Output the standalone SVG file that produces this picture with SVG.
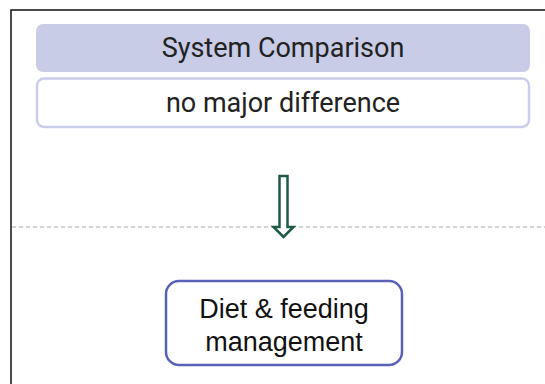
<svg xmlns="http://www.w3.org/2000/svg" width="545" height="384" viewBox="0 0 545 384">
  <style>
    .frame { stroke: #111; stroke-width: 1.5; fill: none; }
    .label { font-family: Roboto, "Liberation Sans", sans-serif; font-size: 27px; fill: #222; text-anchor: middle; }
    .node-label { font-family: "Liberation Sans", Arial, sans-serif; font-size: 27px; fill: #111; text-anchor: middle; }
    .divider { stroke: #a8a8a8; stroke-width: 1; stroke-dasharray: 4 3; }
    .flow-arrow { fill: #fff; stroke: #1d5a47; stroke-width: 2.5; stroke-linejoin: miter; }
  </style>
  <rect width="545" height="384" fill="#fff"/>

  <!-- outer frame: top and left edges -->
  <path class="frame" d="M11 384 V10 H545"/>

  <g id="header">
    <rect x="36" y="24" width="494" height="48" rx="7" fill="#c8cce6"/>
    <text class="label" x="283" y="57">System Comparison</text>
  </g>

  <g id="summary">
    <rect x="37" y="78.5" width="492" height="48.5" rx="7" fill="#fff" stroke="#c9cde9" stroke-width="2.5"/>
    <text class="label" x="283" y="112">no major difference</text>
  </g>

  <g id="connectors">
    <line class="divider" x1="12" y1="227" x2="545" y2="227"/>
    <polygon class="flow-arrow" points="279.5,176 287.5,176 287.5,227 293.5,227 283.5,237 273.5,227 279.5,227"/>
  </g>

  <g id="diet-feeding">
    <rect x="166" y="281" width="236" height="84" rx="13" fill="#fff" stroke="#5a62b8" stroke-width="2.5"/>
    <text class="node-label" x="284" y="318">Diet &amp; feeding</text>
    <text class="node-label" x="284" y="351">management</text>
  </g>
</svg>
